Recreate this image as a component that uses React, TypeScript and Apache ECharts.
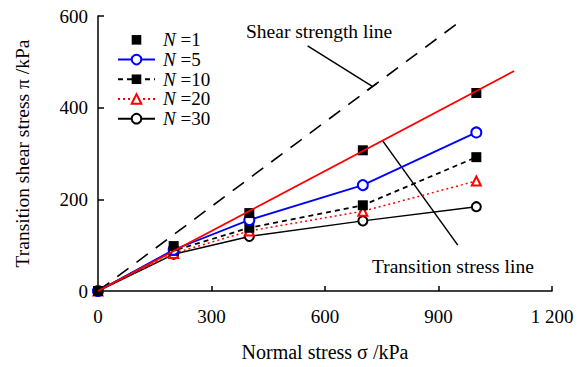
import React, { useEffect, useRef } from "react";
import * as echarts from "echarts";

const sigma = [0, 200, 400, 700, 1000];
const n1 = [0, 98, 170, 307, 432];
const n5 = [0, 90, 155, 231, 346];
const n10 = [0, 88, 138, 187, 292];
const n20 = [0, 82, 131, 174, 240];
const n30 = [0, 80, 119, 153, 184];

const shearLine = [[0, 0], [960, 590]];
const transitionLine = [[0, 0], [1100, 480]];
const shearLeader = [[554, 535], [724, 447]];
const shearCap = [[711, 438], [737, 453]];
const transitionLeader = [[752, 328], [951, 100]];

const xTicks = [0, 300, 600, 900, 1200];
const yTicks = [0, 200, 400, 600];

const FONT = "'Liberation Serif', 'Times New Roman', serif";

const zip = (xs: number[], ys: number[]) => xs.map((x, i) => [x, ys[i]]);

export default function App() {
  const ref = useRef<HTMLDivElement>(null);
  useEffect(() => {
    if (!ref.current) return;
    const chart = echarts.init(ref.current, undefined, { renderer: "svg" });
    const plain = (name: string, data: number[][], color: string, width: number, type: any, z = 2) => ({
      name,
      type: "line",
      data,
      symbol: "none",
      silent: true,
      z,
      lineStyle: { color, width, type },
    });
    chart.setOption({
      animation: false,
      textStyle: { fontFamily: FONT, color: "#000" },
      grid: { left: 98, right: 30, top: 16, bottom: 71 },
      legend: {
        orient: "vertical",
        left: 117,
        top: 30,
        padding: 0,
        itemWidth: 37,
        itemHeight: 12,
        itemGap: 0,
        data: ["N1", "N5", "N10", "N20", "N30"],
        formatter: (n: string) => `{i|N} =${n.slice(1)}`,
        textStyle: {
          fontFamily: FONT,
          fontSize: 19,
          color: "#000",
          lineHeight: 19.7,
          padding: [0, 0, 0, 3],
          rich: { i: { fontStyle: "italic", fontFamily: FONT, fontSize: 19, lineHeight: 19.7 } },
        },
      },
      xAxis: {
        type: "value",
        min: 0,
        max: 1200,
        interval: 300,
        name: "Normal stress σ /kPa",
        nameLocation: "middle",
        nameGap: 51,
        nameTextStyle: { fontFamily: FONT, fontSize: 20, color: "#000" },
        axisLine: { lineStyle: { color: "#000", width: 1.5 } },
        axisTick: { inside: true, length: 5, lineStyle: { color: "#000", width: 1.5 } },
        axisLabel: {
          fontFamily: FONT,
          fontSize: 19,
          color: "#000",
          margin: 16,
          formatter: (v: number) => (xTicks.includes(v) && v >= 1000 ? "1 200" : String(v)),
        },
        splitLine: { show: false },
      },
      yAxis: {
        type: "value",
        min: 0,
        max: 600,
        interval: 200,
        name: "Transition shear stress π /kPa",
        nameLocation: "middle",
        nameGap: 66,
        nameTextStyle: { fontFamily: FONT, fontSize: 19.5, color: "#000" },
        axisLine: { lineStyle: { color: "#000", width: 1.5 } },
        axisTick: { inside: true, length: 6, lineStyle: { color: "#000", width: 1.5 } },
        axisLabel: {
          fontFamily: FONT,
          fontSize: 19,
          color: "#000",
          margin: 10,
          formatter: (v: number) => (yTicks.includes(v) ? String(v) : ""),
        },
        splitLine: { show: false },
      },
      graphic: [
        {
          type: "text",
          left: 246,
          top: 21,
          style: { text: "Shear strength line", fontFamily: FONT, fontSize: 19.5, fill: "#000" },
        },
        {
          type: "text",
          left: 372,
          top: 256,
          style: { text: "Transition stress line", fontFamily: FONT, fontSize: 19.5, fill: "#000" },
        },
      ],
      series: [
        plain("shear", shearLine, "#000", 1.6, [14, 10]),
        plain("leader1", shearLeader, "#000", 1.5, "solid"),
        plain("cap1", shearCap, "#000", 1.5, "solid"),
        plain("leader2", transitionLeader, "#000", 1.5, "solid"),
        {
          name: "N30",
          type: "line",
          data: zip(sigma, n30),
          symbol: "emptyCircle",
          symbolSize: 9,
          z: 3,
          lineStyle: { color: "#000", width: 1.5 },
          itemStyle: { color: "#000", borderWidth: 1.8 },
        },
        {
          name: "N20",
          type: "line",
          data: zip(sigma, n20),
          symbol: "emptyTriangle",
          symbolSize: 9,
          z: 3,
          lineStyle: { color: "#ff0000", width: 1.5, type: [2, 3] },
          itemStyle: { color: "#ff0000", borderWidth: 1.8 },
        },
        {
          name: "N10",
          type: "line",
          data: zip(sigma, n10),
          symbol: "rect",
          symbolSize: 10,
          z: 3,
          lineStyle: { color: "#000", width: 1.8, type: [5, 4] },
          itemStyle: { color: "#000" },
        },
        {
          name: "N5",
          type: "line",
          data: zip(sigma, n5),
          symbol: "emptyCircle",
          symbolSize: 10,
          z: 3,
          lineStyle: { color: "#0000ff", width: 1.8 },
          itemStyle: { color: "#0000ff", borderWidth: 2 },
        },
        {
          name: "N1",
          type: "line",
          data: zip(sigma, n1),
          symbol: "rect",
          symbolSize: 10,
          z: 3,
          lineStyle: { color: "#000", width: 0, opacity: 0 },
          itemStyle: { color: "#000" },
        },
        plain("transition", transitionLine, "#ff0000", 1.8, "solid", 4),
      ],
    });
    return () => chart.dispose();
  }, []);
  return (
    <div
      ref={ref}
      style={{ position: "fixed", left: 0, top: 0, width: 582, height: 367, background: "#fff" }}
    />
  );
}
